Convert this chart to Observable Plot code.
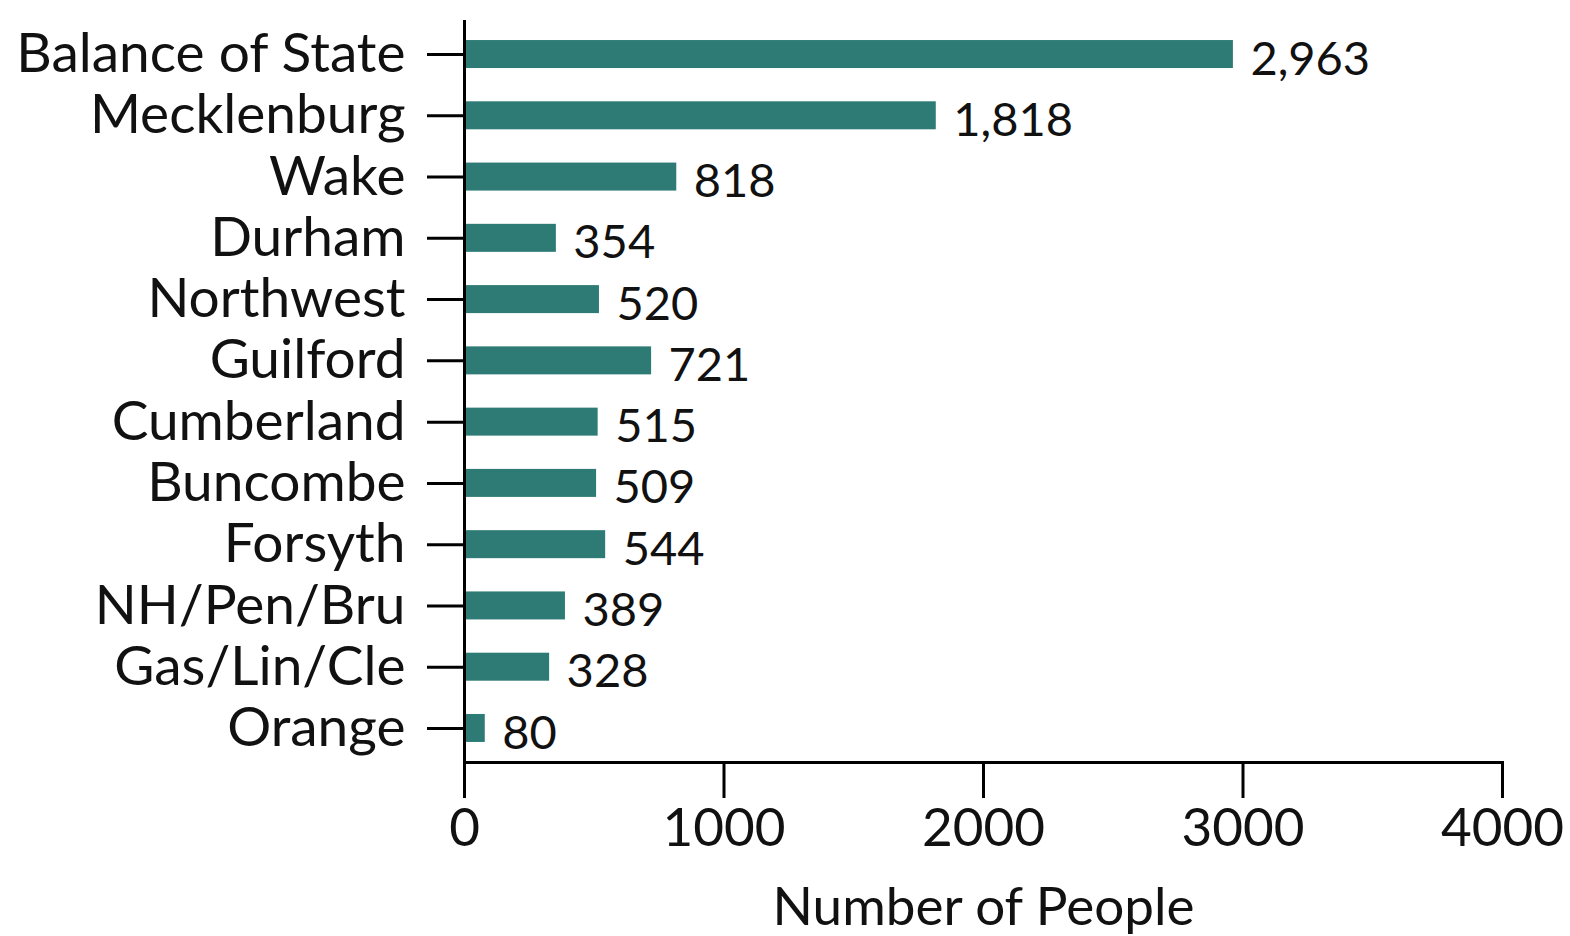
<!DOCTYPE html>
<html>
<head>
<meta charset="utf-8">
<script src="https://cdn.jsdelivr.net/npm/d3@7"></script>
<script src="https://cdn.jsdelivr.net/npm/@observablehq/plot@0.6"></script>
<style>
  html, body { margin: 0; padding: 0; background: #fff; }
  #chart svg { font-family: Lato, "Open Sans", sans-serif; overflow: visible; }
</style>
</head>
<body>
<div id="chart"></div>
<script>
const regions = ["Balance of State","Mecklenburg","Wake","Durham","Northwest","Guilford","Cumberland","Buncombe","Forsyth","NH/Pen/Bru","Gas/Lin/Cle","Orange"];
const counts = [2963,1818,818,354,520,721,515,509,544,389,328,80];
const xTicks = [0,1000,2000,3000,4000];
const xLabel = "Number of People";

const data = regions.map((r, i) => ({region: r, count: counts[i]}));
const barColor = "#2e7b75";
const fmt = d3.format(",");

const chart = Plot.plot({
  width: 1570,
  height: 936,
  marginLeft: 464,
  marginRight: 68,
  marginTop: 20,
  marginBottom: 174,
  style: {fontFamily: "Lato, 'Open Sans', sans-serif", background: "#fff", color: "#000"},
  x: {domain: [0, 4000], round: false},
  y: {domain: regions, paddingInner: 0.543, paddingOuter: 0.327, round: false},
  marks: [
    Plot.barX(data, {x: "count", y: "region", fill: barColor}),
    Plot.text(data, {x: "count", y: "region", text: d => fmt(d.count), dx: 17, dy: 5, textAnchor: "start", fontSize: 47, fill: "#111"}),
    Plot.axisY({tickSize: 37, tickPadding: 22, fontSize: 55, strokeWidth: 3, label: null, fill: "#111"}),
    Plot.axisX({ticks: xTicks, tickFormat: d3.format("d"), tickSize: 36, tickPadding: 10, fontSize: 53, strokeWidth: 3, fill: "#111",
      label: xLabel, labelAnchor: "center", labelOffset: 162, labelArrow: "none"}),
    Plot.ruleX([0], {strokeWidth: 3}),
    Plot.frame({anchor: "bottom", strokeWidth: 3})
  ]
});
document.getElementById("chart").appendChild(chart);
</script>
</body>
</html>
